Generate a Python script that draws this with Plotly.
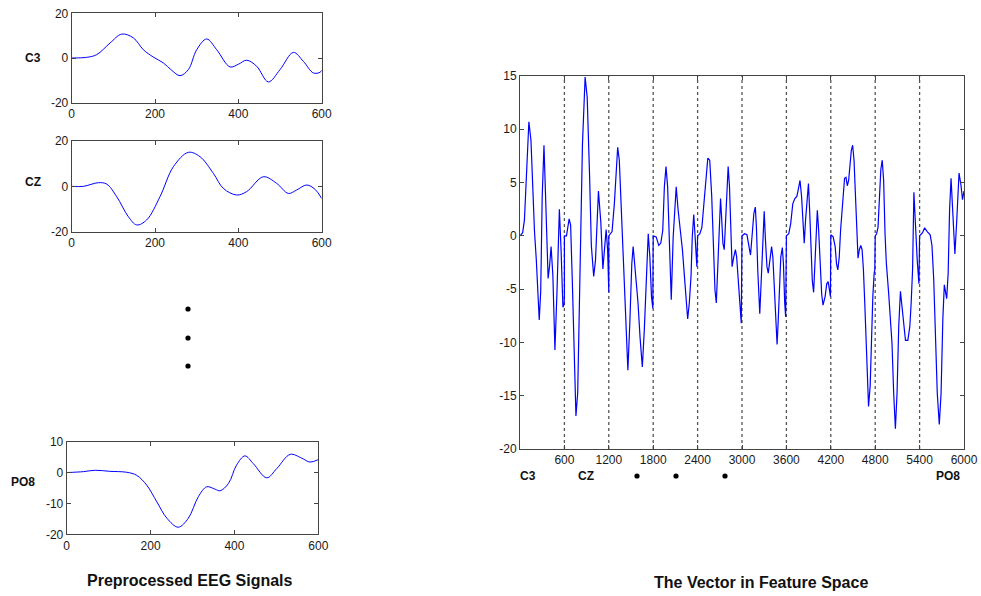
import plotly.graph_objects as go

W, H = 981, 596

# ---------------- data ----------------
# channel segments: sample index within channel (0..600) and amplitude
c3_t = [0, 36, 60, 92, 120, 148, 172, 196, 220, 240, 260, 280, 300, 324, 348, 380, 400, 420, 444, 472, 500, 532, 556, 580, 596, 600]
c3_v = [0, 0.3, 1.5, 6.7, 10.7, 9, 3.7, 0.4, -2.2, -5.5, -7.9, -5.2, 3.7, 8.5, 3.7, -4, -2.8, -1, -3.7, -10.7, -5.2, 2.5, -1.5, -6.7, -6.4, -5.5]

cz_t = [0, 28, 64, 84, 108, 136, 156, 180, 212, 244, 280, 308, 340, 364, 396, 420, 460, 492, 520, 540, 564, 584, 600]
cz_v = [0, 0, 1.6, 1, -4.5, -13.3, -16.9, -14.7, -4.5, 8.6, 14.9, 13, 5.7, -0.9, -3.8, -2.3, 4.2, 1.3, -3.1, -1.6, 0.6, -1.3, -5.3]

ch3_t = [0, 44, 75, 98, 120, 142, 164, 195, 222, 240, 258, 284, 311, 329, 364, 395, 422, 453, 480, 506, 533, 555, 577, 595]
ch3_v = [0, 0.4, 3, 6.2, 8.3, 7.1, 3, -2, -7, -11, -12.6, -8.2, -2.6, -1, -3.8, -6.3, -9.5, -12.3, -8.8, -3.8, 0.2, -2, -5.7, -6.8]

ch4_t = [0, 40, 75, 102, 129, 151, 173, 195, 222, 244, 270, 293, 311, 337, 364, 395, 422, 444, 466, 488, 511, 528, 548, 564, 577, 590]
ch4_v = [0, -0.1, -0.9, -0.7, 0.5, 4.6, 6.5, 4.6, -2.6, -6, -0.1, 3, 4.6, 2.4, 0.8, -1.3, -3.8, -6.3, -7.8, -6.3, -3.8, -0.1, 2.0, 0.2, -2, -2.9]

ch5_t = [0, 31, 58, 84, 111, 138, 164, 191, 218, 235, 253, 271, 289, 310, 324, 342, 360, 377, 395, 413, 431, 448, 466, 488, 511, 528, 546, 568, 590]
ch5_v = [0, 0.2, 0.8, 3, 5.5, 7.3, 7.1, 3.7, -1.7, -5.1, -6.3, -2.6, 1.2, 3.5, 1.8, -0.7, -1.3, 1.2, 4.3, 6.5, 4.6, -0.1, -2.9, -2, -1.3, -2, -3.8, -6, -8.2]

ch6_t = [0, 35, 67, 89, 115, 142, 160, 180, 195, 213, 231, 240, 258, 280, 300, 315, 337, 355, 377, 400, 417, 435, 453, 474, 488, 506, 524, 545, 560, 577, 590]
ch6_v = [0, 0.2, 0.1, -0.7, -1.8, 0.5, 2.1, 2.7, 0.8, -3.2, -6.3, -7.3, -4.5, -0.1, 2.3, -0.1, -2.9, -3.5, -2, -1, -2, -5.1, -8.2, -10.2, -8.2, -4.5, -2, -1.1, -2.6, -6.3, -7.6]

ch7_t = [0, 32, 59, 86, 114, 141, 159, 184, 205, 223, 241, 259, 277, 298, 314, 332, 350, 368, 386, 404, 418, 436, 455, 477, 495, 523, 545, 564, 582, 595]
ch7_v = [0, 0.2, 1.2, 3, 3.5, 3.7, 4.3, 5.2, 3.7, 0.8, -0.7, 1.5, 3.3, 4.9, 2.4, -1.3, -4.2, -5.3, -2, 1.5, 2.4, 0.5, -2.6, -5.5, -6.5, -5.7, -4.5, -4.3, -5.1, -5.7]

ch8_t = [0, 32, 59, 77, 95, 114, 132, 150, 168, 186, 205, 223, 241, 259, 277, 295, 314, 332, 350, 368, 386, 405, 423, 441, 459, 477, 495, 510, 532, 550, 568, 586, 595]
ch8_v = [0.1, -0.1, -1, -2.6, -3.2, -2, 0.5, 2.4, 4.3, 5.4, 5.5, 4.7, 5.2, 6.8, 8, 8.5, 7.1, 4, -0.1, -2.1, -1.3, -0.9, -1.3, -3.2, -6.3, -10.4, -13.8, -16, -14.1, -9.5, -5.7, -3.5, -3.2]

ch9_t = [0, 19, 38, 57, 76, 95, 114, 133, 150, 182, 227, 250, 273, 295, 318, 341, 364, 386, 409, 441, 468, 486, 505, 523, 545, 568, 591]
ch9_v = [0, 0.2, 0.8, 3.3, 6.2, 7.1, 5.2, 0.2, -2.5, -5.4, -10.1, -14.8, -18.1, -14.8, -8.5, -5.2, -6.9, -8.8, -9.8, -9.8, -8.5, -6.3, -3.2, 4.1, 0.8, -2.3, -4.5]

po8_t = [0, 40, 68, 103, 143, 167, 191, 215, 239, 266, 290, 314, 334, 354, 366, 386, 405, 425, 445, 477, 501, 533, 560, 580, 600]
po8_v = [0, 0.3, 0.75, 0.4, 0.1, -0.9, -4.1, -9.5, -14.8, -17.7, -14.8, -7.8, -4.6, -5.4, -5.9, -3.5, 2.4, 5.4, 2.9, -1.7, 1.3, 5.9, 4.7, 3.4, 4.2]

segment_len = 600
small_xticks = [0, 200, 400, 600]
c3_yticks = [-20, 0, 20]
cz_yticks = [-20, 0, 20]
po8_yticks = [-20, -10, 0, 10]
big_xticks = [600, 1200, 1800, 2400, 3000, 3600, 4200, 4800, 5400, 6000]
big_yticks = [-20, -15, -10, -5, 0, 5, 10, 15]
boundaries = [600, 1200, 1800, 2400, 3000, 3600, 4200, 4800, 5400]

# ---------------- build the concatenated feature vector ----------------
segments = [(c3_t, c3_v), (cz_t, cz_v), (ch3_t, ch3_v), (ch4_t, ch4_v), (ch5_t, ch5_v),
            (ch6_t, ch6_v), (ch7_t, ch7_v), (ch8_t, ch8_v), (ch9_t, ch9_v), (po8_t, po8_v)]
big_x, big_y = [], []
for i, (t, v) in enumerate(segments):
    big_x += [i * segment_len + ti for ti in t]
    big_y += list(v)

BLUE = "#0000ff"
AX = "#444444"
FONT = "Liberation Sans, Arial, sans-serif"

fig = go.Figure()
fig.add_trace(go.Scatter(x=c3_t, y=c3_v, mode="lines", line=dict(color=BLUE, width=1, shape="spline", smoothing=1), xaxis="x", yaxis="y"))
fig.add_trace(go.Scatter(x=cz_t, y=cz_v, mode="lines", line=dict(color=BLUE, width=1, shape="spline", smoothing=1), xaxis="x2", yaxis="y2"))
fig.add_trace(go.Scatter(x=po8_t, y=po8_v, mode="lines", line=dict(color=BLUE, width=1, shape="spline", smoothing=1), xaxis="x3", yaxis="y3"))
fig.add_trace(go.Scatter(x=big_x, y=big_y, mode="lines", line=dict(color=BLUE, width=1.2), xaxis="x4", yaxis="y4"))


# page pixel -> paper fraction
def fx(px):
    return px / W


def fy(py):
    return 1 - py / H


def ax(domain, rng, ticks, anchor, **kw):
    d = dict(domain=domain, range=rng, tickvals=ticks, ticktext=[str(t) for t in ticks],
             anchor=anchor, automargin=False,
             showline=True, linecolor=AX, linewidth=1, mirror="ticks",
             ticks="inside", ticklen=4, tickcolor=AX, showgrid=False, zeroline=False,
             tickfont=dict(family=FONT, size=12, color="#1a1a1a"), fixedrange=True)
    d.update(kw)
    return d


fig.update_layout(
    template="none",
    width=W, height=H, margin=dict(l=0, r=0, t=0, b=0, pad=0, autoexpand=False),
    paper_bgcolor="white", plot_bgcolor="white", showlegend=False,
    xaxis=ax([fx(71.7), fx(321.7)], [0, 600], small_xticks, "y"),
    yaxis=ax([fy(102.7), fy(13.3)], [-20, 20], c3_yticks, "x"),
    xaxis2=ax([fx(71.7), fx(321.7)], [0, 600], small_xticks, "y2"),
    yaxis2=ax([fy(232), fy(140.7)], [-20, 20], cz_yticks, "x2"),
    xaxis3=ax([fx(66.7), fx(318.3)], [0, 600], small_xticks, "y3"),
    yaxis3=ax([fy(534.3), fy(441.7)], [-20, 10], po8_yticks, "x3"),
    xaxis4=ax([fx(520), fx(964)], [0, 6000], big_xticks, "y4"),
    yaxis4=ax([fy(449), fy(76)], [-20, 15], big_yticks, "x4"),
)

# dotted channel boundaries
for b in boundaries:
    fig.add_shape(type="line", xref="x4", yref="y4", x0=b, x1=b, y0=-20, y1=15,
                  line=dict(color="#555555", width=1.3, dash="dot"), layer="below")


def ann(text, x, y, size=12, bold=True):
    fig.add_annotation(text=f"<b>{text}</b>" if bold else text, x=fx(x), y=fy(y),
                       xref="paper", yref="paper", showarrow=False,
                       font=dict(family=FONT, size=size, color="#111111"),
                       xanchor="center", yanchor="middle")


ann("C3", 33, 58)
ann("CZ", 33, 182)
ann("PO8", 23, 482)
ann("Preprocessed EEG Signals", 190, 580, size=16)
ann("The Vector in Feature Space", 761, 582, size=16)
ann("C3", 528, 476, size=12)
ann("CZ", 586, 476, size=12)
ann("PO8", 948, 476, size=12)

# ellipsis dots
dots = [(188, 309), (188, 338), (188, 366), (637, 476), (676, 476), (725, 476)]
r = 2.6
for cx, cy in dots:
    fig.add_shape(type="circle", xref="paper", yref="paper",
                  x0=fx(cx - r), x1=fx(cx + r), y0=fy(cy + r), y1=fy(cy - r),
                  fillcolor="black", line=dict(color="black", width=0))

fig.write_html("out.html")
